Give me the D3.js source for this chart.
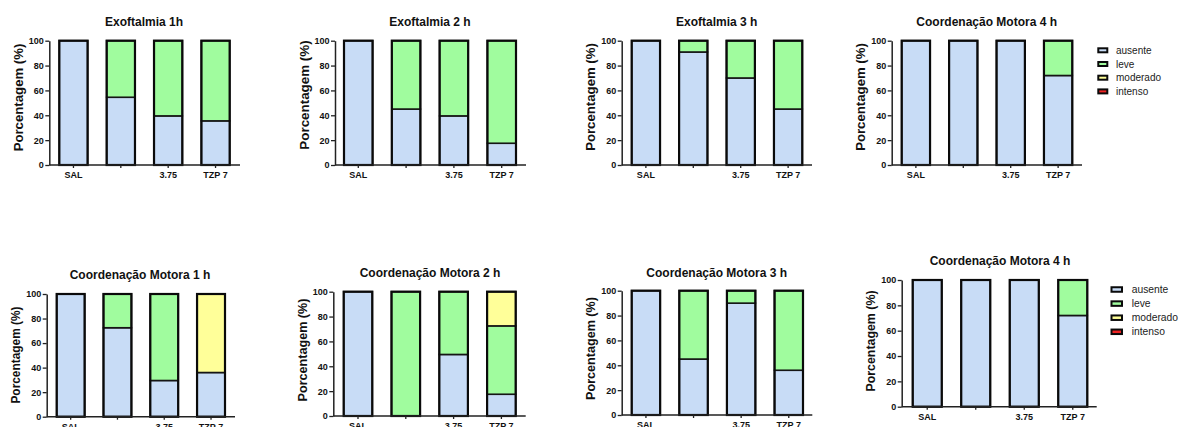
<!DOCTYPE html>
<html>
<head>
<meta charset="utf-8">
<script src="https://cdn.jsdelivr.net/npm/d3@7"></script>
<style>
  html, body { margin: 0; padding: 0; background: #fff; }
  svg { display: block; font-family: "Liberation Sans", Arial, sans-serif; }
</style>
</head>
<body>
<svg id="fig" width="1179" height="427"></svg>
<script>
// ---- data ----
const tickLabels = ["SAL", "", "3.75", "TZP 7"];
const levels = ["ausente", "leve", "moderado", "intenso"];
const levelColors = ["#c8dcf6", "#a0fc9e", "#ffff99", "#ee2222"];
const yTicks = [0, 20, 40, 60, 80, 100];

const titles = [
  "Exoftalmia 1h", "Exoftalmia 2 h", "Exoftalmia 3 h", "Coordenação Motora 4 h",
  "Coordenação Motora 1 h", "Coordenação Motora 2 h", "Coordenação Motora 3 h", "Coordenação Motora 4 h"
];

// per chart: % of animals in each level (ausente, leve, moderado, intenso) for each group
const exo1h = [[100, 54.5, 39.5, 35.5], [0, 45.5, 60.5, 64.5], [0, 0, 0, 0], [0, 0, 0, 0]];
const exo2h = [[100, 45, 39.5, 17.5], [0, 55, 60.5, 82.5], [0, 0, 0, 0], [0, 0, 0, 0]];
const exo3h = [[100, 90.9, 70, 45], [0, 9.1, 30, 55], [0, 0, 0, 0], [0, 0, 0, 0]];
const coord4hA = [[100, 100, 100, 72], [0, 0, 0, 28], [0, 0, 0, 0], [0, 0, 0, 0]];
const coord1h = [[100, 72.5, 29.5, 36], [0, 27.5, 70.5, 0], [0, 0, 0, 64], [0, 0, 0, 0]];
const coord2h = [[100, 0, 49.5, 17.5], [0, 100, 50.5, 55], [0, 0, 0, 27.5], [0, 0, 0, 0]];
const coord3h = [[100, 45, 90, 36], [0, 55, 10, 64], [0, 0, 0, 0], [0, 0, 0, 0]];
const coord4hB = [[100, 100, 100, 72], [0, 0, 0, 28], [0, 0, 0, 0], [0, 0, 0, 0]];

const panelData = [exo1h, exo2h, exo3h, coord4hA, coord1h, coord2h, coord3h, coord4hB];

// ---- layout of each chart on the page ----
const layout = [
  { ax: 49.3,  axEnd: 240,    top: 40.7,  bottom: 165,   bl: 58.3,  br: 230.7,  tx: 144,   ty: 25.5,  lab: 13.2, labY: 97.5 },
  { ax: 335,   axEnd: 526,    top: 40.7,  bottom: 165,   bl: 343,   br: 517,    tx: 430,   ty: 25.5,  lab: 13.4, labY: 95 },
  { ax: 621.7, axEnd: 812,    top: 40.7,  bottom: 165,   bl: 630.7, br: 803.3,  tx: 716.7, ty: 25.5,  lab: 13.2, labY: 97 },
  { ax: 891.7, axEnd: 1082,   top: 40.7,  bottom: 165,   bl: 900.7, br: 1073.3, tx: 986.7, ty: 25.5,  lab: 13.2, labY: 97,
    legend: { x: 1097.3, y: 50.3, w: 11, h: 6, dy: 13.7, tx: 1116, fs: 10 } },
  { ax: 46.7,  axEnd: 235,    top: 294,   bottom: 416.7, bl: 55.7,  br: 226,    tx: 140,   ty: 279,   lab: 11.9, labY: 355 },
  { ax: 333.3, axEnd: 525.7,  top: 291.7, bottom: 416,   bl: 342.7, br: 516.7,  tx: 430,   ty: 276.5, lab: 12.6, labY: 350 },
  { ax: 621.7, axEnd: 812.3,  top: 290.7, bottom: 415,   bl: 630.7, br: 804,    tx: 716.7, ty: 276.5, lab: 12.6, labY: 348.5 },
  { ax: 901.7, axEnd: 1096.7, top: 280,   bottom: 406.7, bl: 911.7, br: 1088.3, tx: 1000,  ty: 264.5, lab: 12.4, labY: 341,
    legend: { x: 1110.5, y: 289.5, w: 12.5, h: 6.5, dy: 14.1, tx: 1131.7, fs: 10.3 } }
];

const svg = d3.select("#fig");

layout.forEach((L, p) => {
  const data = panelData[p];
  const g = svg.append("g");

  const y = d3.scaleLinear().domain([0, 100]).range([L.bottom, L.top]);
  const x = d3.scaleBand()
    .domain(d3.range(tickLabels.length))
    .range([L.bl, L.br])
    .paddingInner(0.36)
    .paddingOuter(0);

  // stacked segments for each group
  const rows = d3.range(tickLabels.length).map(i => {
    const r = { i };
    levels.forEach((lv, k) => { r[lv] = data[k][i]; });
    return r;
  });
  const stacked = d3.stack().keys(levels)(rows);

  const bw = x.bandwidth();
  stacked.forEach((layer, k) => {
    g.append("g").selectAll("rect")
      .data(layer.filter(d => d[1] - d[0] > 0))
      .join("rect")
      .attr("x", d => x(d.data.i) + 1)
      .attr("width", bw - 2)
      .attr("y", d => y(d[1]))
      .attr("height", d => y(d[0]) - y(d[1]))
      .attr("fill", levelColors[k])
      .attr("stroke", "#151515")
      .attr("stroke-width", 1.6);
  });

  // heavier outline round each full bar
  g.append("g").selectAll("rect")
    .data(rows)
    .join("rect")
    .attr("x", d => x(d.i) + 1)
    .attr("width", bw - 2)
    .attr("y", d => y(d3.sum(levels, lv => d[lv])))
    .attr("height", d => y(0) - y(d3.sum(levels, lv => d[lv])))
    .attr("fill", "none")
    .attr("stroke", "#0a0a0a")
    .attr("stroke-width", 2.2);

  // y axis
  const yAxis = d3.axisLeft(y).tickValues(yTicks).tickSize(4).tickSizeOuter(0).tickPadding(1.5);
  const gy = g.append("g").attr("transform", `translate(${L.ax},0)`).call(yAxis);
  gy.selectAll("text").attr("font-size", 9).attr("font-weight", "bold").attr("fill", "#111");
  gy.selectAll("line").attr("stroke", "#222").attr("stroke-width", 1.3);
  gy.select(".domain").attr("stroke", "#222").attr("stroke-width", 1.5);

  // x axis
  const xAxis = d3.axisBottom(x).tickFormat(i => tickLabels[i]).tickSize(3).tickSizeOuter(0).tickPadding(3.8);
  const gx = g.append("g").attr("transform", `translate(0,${L.bottom})`).call(xAxis);
  gx.select(".domain").attr("d", `M${L.ax},0H${L.axEnd}`).attr("stroke", "#222").attr("stroke-width", 1.5);
  gx.selectAll("text").attr("font-size", 9).attr("font-weight", "bold").attr("fill", "#111");
  gx.selectAll("line").attr("stroke", "#222").attr("stroke-width", 1.3);

  // title
  g.append("text")
    .attr("x", L.tx).attr("y", L.ty)
    .attr("text-anchor", "middle")
    .attr("font-size", 12).attr("font-weight", "bold").attr("fill", "#111")
    .text(titles[p]);

  // y-axis title
  g.append("text")
    .attr("transform", `translate(${L.ax - 26.5},${L.labY}) rotate(-90)`)
    .attr("text-anchor", "middle")
    .attr("font-size", L.lab).attr("font-weight", "bold").attr("fill", "#111")
    .text("Porcentagem (%)");

  // legend
  if (L.legend) {
    const lg = L.legend;
    const items = g.append("g").selectAll("g")
      .data(levels)
      .join("g")
      .attr("transform", (d, k) => `translate(0,${lg.y + k * lg.dy})`);
    items.append("rect")
      .attr("x", lg.x + 1).attr("y", -lg.h / 2 + 1)
      .attr("width", lg.w - 2).attr("height", lg.h - 2)
      .attr("fill", (d, k) => levelColors[k])
      .attr("stroke", "#0a0a0a").attr("stroke-width", 2);
    items.append("text")
      .attr("x", lg.tx).attr("y", 0).attr("dy", "0.35em")
      .attr("font-size", lg.fs).attr("fill", "#222")
      .text(d => d);
  }
});
</script>
</body>
</html>
